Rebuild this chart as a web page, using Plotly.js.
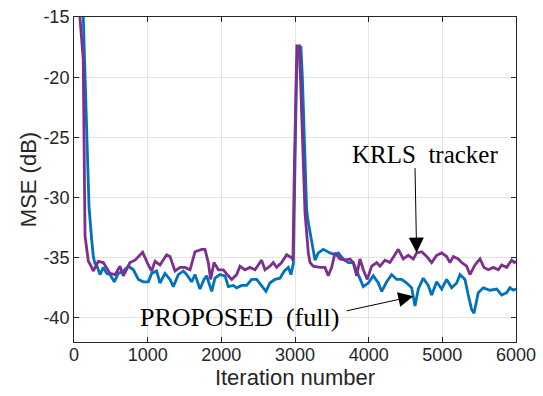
<!DOCTYPE html>
<html>
<head>
<meta charset="utf-8">
<script src="https://cdn.plot.ly/plotly-3.0.1.min.js"></script>
<style>html,body{margin:0;padding:0;background:#fff;}#chart{width:543px;height:396px;}</style>
</head>
<body>
<div id="chart"></div>
<script>
// PROPOSED (full) — blue
const proposedIter = [0,100,126,165,204,240,262,285,307,353,398,443,489,547,602,670,738,806,874,941,1009,1054,1122,1167,1235,1303,1348,1416,1484,1530,1597,1643,1710,1765,1800,1869,1914,1982,2050,2095,2163,2208,2276,2344,2412,2480,2547,2606,2660,2728,2796,2855,2909,2945,2977,2995,3020,3040,3080,3100,3136,3158,3181,3226,3272,3316,3384,3475,3543,3588,3655,3723,3791,3859,3927,3995,4063,4131,4177,4245,4312,4380,4448,4516,4584,4629,4674,4741,4809,4855,4923,4991,5059,5127,5195,5240,5307,5352,5398,5430,5488,5556,5647,5738,5806,5873,5918,5963,6000];
const proposedMSE = [-10,-12,-15,-23,-30.8,-33.5,-34.9,-35.5,-35.6,-36.4,-35.8,-36.3,-36.4,-37.0,-36.3,-36.1,-35.7,-36.0,-36.8,-37.0,-37.0,-36.3,-36.1,-37.1,-36.3,-36.8,-37.4,-36.4,-36.1,-36.4,-37.0,-36.4,-37.6,-36.8,-36.5,-37.8,-36.7,-36.4,-36.5,-37.4,-37.3,-37.5,-37.3,-37.3,-36.8,-36.8,-37.3,-37.8,-37.1,-36.8,-36.7,-36.1,-35.8,-36.4,-35.5,-30,-20,-17.5,-17.5,-20,-27.1,-31.0,-32.1,-33.75,-35.2,-34.6,-34.3,-34.6,-34.75,-34.6,-35.1,-35.4,-35.4,-36.4,-37.4,-37.1,-36.5,-37.1,-37.8,-37.0,-36.4,-36.8,-36.8,-37.1,-37.5,-39.0,-37.6,-36.7,-37.3,-38.1,-37.0,-37.6,-36.8,-37.5,-37.1,-36.4,-36.8,-38.1,-39.3,-39.6,-37.9,-37.5,-37.7,-37.6,-38.1,-37.9,-37.5,-37.7,-37.6];

// KRLS tracker — purple
const krlsIter = [0,80,125,150,195,215,262,330,398,489,557,624,670,760,828,932,1009,1054,1100,1167,1258,1303,1371,1439,1507,1575,1643,1733,1778,1823,1855,1900,1960,2027,2095,2140,2208,2253,2321,2389,2457,2547,2592,2660,2705,2750,2818,2887,2955,2972,2990,3010,3025,3060,3075,3110,3136,3181,3204,3248,3339,3407,3452,3498,3543,3611,3679,3747,3791,3837,3882,3927,3981,4041,4109,4154,4222,4289,4357,4402,4470,4538,4606,4652,4720,4788,4855,4923,4991,5059,5104,5149,5217,5262,5330,5375,5443,5511,5565,5624,5692,5760,5806,5873,5941,5977,6000];
const krlsMSE = [-10,-15,-18.5,-33.2,-35.3,-35.5,-36.1,-35.3,-35.4,-36.3,-36.4,-35.7,-36.5,-35.4,-35.2,-34.55,-35.6,-36.1,-35.3,-35.6,-34.75,-34.9,-36.1,-35.8,-35.8,-36.0,-34.5,-34.3,-34.3,-35.4,-36.8,-35.4,-36.0,-36.0,-36.5,-36.8,-36.4,-35.7,-36.0,-35.8,-36.0,-35.2,-36.0,-35.7,-35.4,-35.8,-35.4,-34.75,-35.0,-35.2,-28,-20,-17.4,-17.4,-20,-27,-31.3,-34.6,-35.4,-35.7,-35.8,-35.8,-36.5,-35.8,-34.6,-35.1,-35.2,-35.1,-35.4,-36.5,-35.1,-36.0,-36.8,-35.7,-35.4,-35.7,-35.2,-35.4,-34.8,-34.3,-35.1,-34.8,-35.1,-34.6,-34.5,-34.9,-35.4,-34.8,-34.6,-34.9,-35.4,-34.9,-35.1,-35.4,-35.7,-36.4,-35.6,-35.1,-35.8,-36.0,-35.8,-36.0,-35.6,-35.8,-35.2,-35.4,-35.3];

const xTicks = [0,1000,2000,3000,4000,5000,6000];
const yTicks = [-40,-35,-30,-25,-20,-15];
const xLabel = 'Iteration number';
const yLabel = 'MSE (dB)';
const krlsLabel = 'KRLS\u2002tracker';
const proposedLabel = 'PROPOSED\u2002(full)';

const traces = [
  {x: proposedIter, y: proposedMSE, type: 'scatter', mode: 'lines',
   line: {color: '#0072BD', width: 2.8}, hoverinfo: 'skip'},
  {x: krlsIter, y: krlsMSE, type: 'scatter', mode: 'lines',
   line: {color: '#7E2F8E', width: 2.8}, hoverinfo: 'skip'}
];

const axisCommon = {
  showline: true, mirror: 'ticks', linecolor: '#262626', linewidth: 1,
  ticks: 'inside', ticklen: 5, tickcolor: '#262626', tickwidth: 1,
  showgrid: true, gridcolor: '#e3e3e3', gridwidth: 1, zeroline: false,
  tickfont: {family: 'Liberation Sans, Arial, sans-serif', size: 18, color: '#262626'}
};

const layout = {
  width: 543, height: 396,
  margin: {l: 74, r: 27, t: 17, b: 54},
  paper_bgcolor: '#ffffff', plot_bgcolor: '#ffffff',
  showlegend: false,
  xaxis: Object.assign({}, axisCommon, {
    range: [0, 6000], tickvals: xTicks, ticktext: xTicks.map(String),
    ticklabelstandoff: -4,
    title: {text: xLabel, standoff: 2, font: {family: 'Liberation Sans, Arial, sans-serif', size: 22, color: '#262626'}}
  }),
  yaxis: Object.assign({}, axisCommon, {
    range: [-42, -15], tickvals: yTicks, ticktext: yTicks.map(String),
    title: {text: yLabel, standoff: 0, font: {family: 'Liberation Sans, Arial, sans-serif', size: 22, color: '#262626'}}
  }),
  annotations: [
    {x: 4764, y: -26.46, xref: 'x', yref: 'y', text: krlsLabel, showarrow: false,
     font: {family: 'Liberation Serif, Times New Roman, serif', size: 25, color: '#000'}},
    {x: 4651, y: -34.58, ax: 4629, ay: -27.43, axref: 'x', ayref: 'y', xref: 'x', yref: 'y',
     text: '', showarrow: true, arrowhead: 2, arrowsize: 3, arrowwidth: 1, arrowcolor: '#000'},
    {x: 2240, y: -39.96, xref: 'x', yref: 'y', text: proposedLabel, showarrow: false,
     font: {family: 'Liberation Serif, Times New Roman, serif', size: 26, color: '#000'}},
    {x: 4606, y: -38.2, ax: 3679, ay: -39.44, axref: 'x', ayref: 'y', xref: 'x', yref: 'y',
     text: '', showarrow: true, arrowhead: 2, arrowsize: 3, arrowwidth: 1, arrowcolor: '#000'}
  ]
};

Plotly.newPlot('chart', traces, layout, {staticPlot: true, displayModeBar: false});
</script>
</body>
</html>
